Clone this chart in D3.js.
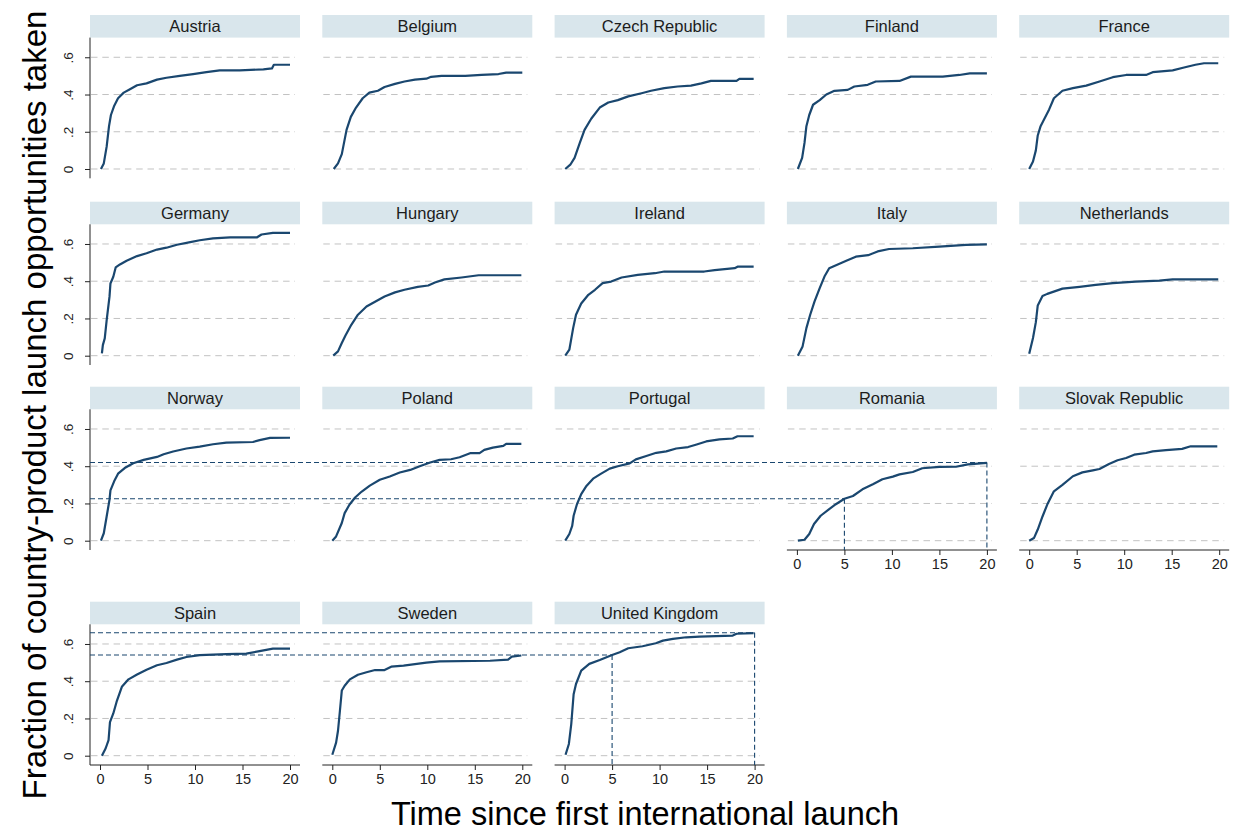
<!DOCTYPE html>
<html>
<head>
<meta charset="utf-8">
<script src="https://cdn.jsdelivr.net/npm/d3@7"></script>
<style>
  html, body { margin: 0; padding: 0; background: #fff; }
  svg { display: block; font-family: "Liberation Sans", Arial, sans-serif; }
</style>
</head>
<body>
<svg id="chart" width="1234" height="833"></svg>
<script>
// ---------------- DATA ----------------
const countries = ["Austria","Belgium","Czech Republic","Finland","France",
  "Germany","Hungary","Ireland","Italy","Netherlands",
  "Norway","Poland","Portugal","Romania","Slovak Republic",
  "Spain","Sweden","United Kingdom"];

const xTicks = [0, 5, 10, 15, 20];
const yTicks = [0, 0.2, 0.4, 0.6];
const yTickLabels = ["0", ".2", ".4", ".6"];

const austria = [[0.1,0],[0.4,0.03],[0.7,0.12],[0.95,0.23],[1.15,0.29],[1.5,0.34],[1.9,0.38],[2.5,0.41],[3.2,0.43],[3.9,0.45],[4.9,0.46],[6.0,0.48],[7.0,0.49],[8.4,0.50],[9.8,0.51],[11.2,0.52],[12.6,0.53],[14.7,0.53],[17.2,0.535],[18.1,0.54],[18.3,0.56],[20,0.56]];
const belgium = [[0.15,0],[0.6,0.03],[1.0,0.08],[1.5,0.21],[1.95,0.28],[2.5,0.33],[3.2,0.38],[3.9,0.41],[4.8,0.42],[5.5,0.44],[6.6,0.457],[7.6,0.47],[8.7,0.48],[9.9,0.485],[10.4,0.495],[11.5,0.50],[14,0.50],[15.7,0.505],[17.5,0.51],[18.3,0.518],[20,0.518]];
const czech = [[0.07,0],[0.6,0.023],[1.05,0.06],[1.6,0.14],[2.1,0.21],[2.8,0.27],[3.7,0.33],[4.6,0.357],[5.6,0.37],[6.7,0.39],[8.1,0.407],[9.1,0.42],[10.5,0.434],[11.9,0.443],[13.3,0.448],[14.4,0.46],[15.4,0.473],[18.1,0.473],[18.4,0.484],[19.9,0.484]];
const finland = [[0.1,0],[0.55,0.06],[0.8,0.14],[1.0,0.23],[1.3,0.29],[1.7,0.345],[2.4,0.37],[3.1,0.40],[3.95,0.42],[5.35,0.425],[6.05,0.443],[7.45,0.452],[8.3,0.47],[10.8,0.473],[12.0,0.496],[15.35,0.496],[17.1,0.505],[18.2,0.514],[20,0.514]];
const france = [[0,0],[0.4,0.04],[0.7,0.10],[0.9,0.18],[1.2,0.23],[1.6,0.27],[2.1,0.32],[2.6,0.38],[3.5,0.42],[4.6,0.434],[6.0,0.448],[7.4,0.47],[8.8,0.493],[10.2,0.505],[12.3,0.505],[13.0,0.52],[15.1,0.53],[16.3,0.545],[17.5,0.56],[18.4,0.568],[19.9,0.568]];
const germany = [[0.2,0.013],[0.3,0.057],[0.5,0.093],[0.7,0.19],[1.0,0.317],[1.1,0.388],[1.4,0.424],[1.65,0.474],[2.1,0.49],[2.8,0.51],[3.9,0.535],[4.9,0.55],[6.0,0.57],[7.0,0.58],[8.1,0.596],[9.5,0.61],[10.5,0.62],[11.9,0.63],[13.7,0.635],[16.5,0.635],[17.0,0.651],[18.2,0.66],[20,0.66]];
const hungary = [[0.1,0],[0.6,0.023],[1.0,0.068],[1.4,0.11],[2.0,0.166],[2.7,0.22],[3.6,0.264],[4.5,0.29],[5.5,0.318],[6.6,0.34],[7.6,0.354],[9.0,0.37],[10.1,0.377],[10.8,0.393],[11.8,0.41],[13.6,0.42],[15.4,0.432],[19.9,0.432]];
const ireland = [[0.07,0],[0.5,0.032],[0.9,0.148],[1.2,0.22],[1.75,0.28],[2.5,0.327],[3.2,0.354],[4.0,0.39],[4.9,0.398],[6.0,0.42],[7.7,0.434],[9.5,0.443],[10.5,0.452],[14.7,0.452],[15.8,0.46],[17.9,0.47],[18.2,0.478],[19.9,0.478]];
const italy = [[0.1,0],[0.6,0.05],[1.0,0.148],[1.4,0.22],[1.85,0.29],[2.4,0.363],[2.9,0.425],[3.4,0.47],[4.3,0.49],[5.2,0.51],[6.2,0.532],[7.5,0.54],[8.5,0.56],[9.7,0.573],[12.2,0.577],[15.0,0.586],[17.8,0.595],[20,0.598]];
const netherlands = [[0,0.01],[0.4,0.095],[0.7,0.18],[0.9,0.27],[1.4,0.32],[1.9,0.332],[3.5,0.36],[5.3,0.37],[7.0,0.38],[8.8,0.39],[11.2,0.398],[13.7,0.403],[15.1,0.41],[19.9,0.41]];
const norway = [[0.1,0],[0.4,0.04],[0.7,0.13],[1.0,0.22],[1.1,0.27],[1.5,0.32],[1.9,0.36],[2.6,0.39],[3.5,0.416],[4.6,0.434],[6.0,0.45],[6.7,0.464],[7.7,0.479],[9.1,0.495],[10.5,0.505],[11.9,0.518],[13.3,0.527],[16.1,0.53],[16.8,0.54],[17.9,0.552],[20,0.553]];
const poland = [[0,0],[0.4,0.023],[1.0,0.095],[1.3,0.148],[1.8,0.193],[2.4,0.232],[3.1,0.264],[3.95,0.296],[5.0,0.327],[6.05,0.345],[7.1,0.366],[8.2,0.38],[9.2,0.40],[10.3,0.42],[11.3,0.434],[12.5,0.4375],[13.4,0.448],[14.5,0.47],[15.5,0.47],[16.0,0.4875],[16.9,0.5],[18.0,0.509],[18.3,0.52],[19.9,0.52]];
const portugal = [[0.07,0],[0.5,0.036],[0.8,0.08],[0.95,0.134],[1.3,0.196],[1.75,0.25],[2.3,0.294],[3.0,0.333],[3.85,0.36],[4.75,0.387],[5.6,0.40],[6.85,0.415],[7.5,0.437],[8.6,0.455],[9.65,0.472],[10.7,0.48],[11.75,0.495],[13.0,0.503],[13.9,0.517],[14.9,0.533],[16.3,0.544],[17.7,0.549],[18.2,0.561],[19.9,0.561]];
const romania = [[0.1,0],[0.8,0.005],[1.3,0.036],[1.8,0.09],[2.5,0.134],[3.4,0.17],[4.1,0.196],[5.0,0.225],[5.9,0.24],[6.9,0.276],[8.0,0.303],[9.0,0.33],[10.1,0.344],[10.8,0.356],[12.2,0.369],[13.2,0.389],[15.0,0.396],[16.75,0.397],[18.0,0.41],[20,0.418]];
const slovak = [[0,0],[0.5,0.014],[0.9,0.06],[1.4,0.13],[1.9,0.194],[2.6,0.265],[3.5,0.30],[4.6,0.346],[5.6,0.367],[6.7,0.378],[7.4,0.385],[8.4,0.412],[9.3,0.432],[10.2,0.444],[11.05,0.462],[12.3,0.471],[13.0,0.48],[14.4,0.486],[16.1,0.493],[17.0,0.507],[19.8,0.507]];
const spain = [[0.2,0],[0.6,0.04],[0.9,0.084],[1.05,0.18],[1.4,0.227],[1.75,0.29],[2.3,0.37],[3.0,0.41],[3.9,0.436],[4.9,0.462],[6.0,0.486],[7.0,0.498],[8.1,0.516],[9.1,0.53],[10.5,0.54],[13.3,0.545],[15.4,0.548],[16.8,0.562],[18.2,0.575],[20,0.575]];
const sweden = [[0,0.005],[0.4,0.07],[0.6,0.134],[0.8,0.24],[1.0,0.35],[1.3,0.376],[1.85,0.41],[2.7,0.435],[3.6,0.448],[4.5,0.46],[5.5,0.46],[6.2,0.478],[7.5,0.484],[8.9,0.493],[9.9,0.50],[11.3,0.507],[16.6,0.51],[18.5,0.516],[18.9,0.532],[19.9,0.538]];
const unitedKingdom = [[0.1,0.005],[0.45,0.063],[0.7,0.17],[0.95,0.33],[1.2,0.385],[1.75,0.457],[2.6,0.493],[3.7,0.514],[5.0,0.541],[5.8,0.556],[6.7,0.577],[8.2,0.588],[9.6,0.604],[10.35,0.618],[11.4,0.627],[12.8,0.636],[14.2,0.64],[17.7,0.645],[18.1,0.655],[19.9,0.658]];

const seriesList = [austria, belgium, czech, finland, france,
  germany, hungary, ireland, italy, netherlands,
  norway, poland, portugal, romania, slovak,
  spain, sweden, unitedKingdom];

// reference markers: [time, value]
const refRomania = [[5, 0.225], [20, 0.42]];
const refUK = [[5, 0.541], [20, 0.66]];

const xAxisPanels = ["Romania", "Slovak Republic", "Spain", "Sweden", "United Kingdom"];

// ---------------- LAYOUT ----------------
const svg = d3.select("#chart");
const nCols = 5;
const colLeft0 = 90, colStep = 232.3, panelW = 210;
const stripTops = [15, 201.7, 386.7, 601.7];
const stripH = 22.6, plotH = 140.7;
const navy = "#1a476f";

function panelGeom(i) {
  const r = Math.floor(i / nCols), c = i % nCols;
  const left = colLeft0 + c * colStep;
  const stripTop = stripTops[r];
  const plotTop = stripTop + stripH;
  const plotBottom = plotTop + plotH;
  const x = d3.scaleLinear().domain([0, 20]).range([left + 10, left + 200]);
  const y = d3.scaleLinear().domain([-0.05, 0.7057]).range([plotBottom, plotTop]);
  return { r, c, left, stripTop, plotTop, plotBottom, x, y };
}

const line = d3.line().x(d => d[0]).y(d => d[1]);

countries.forEach((name, i) => {
  const g = panelGeom(i);
  const pg = svg.append("g");

  // strip
  pg.append("rect").attr("x", g.left).attr("y", g.stripTop)
    .attr("width", panelW).attr("height", stripH).attr("fill", "#d9e6ec");
  pg.append("text").attr("x", g.left + panelW / 2).attr("y", g.stripTop + 17)
    .attr("text-anchor", "middle").attr("font-size", 16.5).attr("fill", "#1c1c1c")
    .text(name);

  // gridlines
  pg.selectAll("line.grid").data(yTicks).enter().append("line")
    .attr("x1", g.left + 1).attr("x2", g.left + 205)
    .attr("y1", d => g.y(d)).attr("y2", d => g.y(d))
    .attr("stroke", "#c2c2c2").attr("stroke-width", 1)
    .attr("stroke-dasharray", "6.5,4.8");

  // y axis (first column)
  if (g.c === 0) {
    const yAxis = d3.axisLeft(g.y).tickValues(yTicks)
      .tickFormat((d, k) => yTickLabels[k]).tickSize(5).tickSizeOuter(0);
    const ya = pg.append("g").attr("transform", `translate(${g.left},0)`).call(yAxis);
    ya.select(".domain").attr("stroke", "#222").attr("d", `M0,${g.plotTop}V${g.plotBottom}`);
    ya.selectAll(".tick line").attr("stroke", "#222");
    ya.selectAll(".tick text")
      .attr("font-size", 13.5).attr("fill", "#222")
      .attr("text-anchor", "middle").attr("x", null).attr("dy", null)
      .attr("transform", "translate(-17,0) rotate(-90)");
  }

  // x axis
  if (xAxisPanels.includes(name)) {
    const xAxis = d3.axisBottom(g.x).tickValues(xTicks).tickSize(5).tickSizeOuter(0).tickPadding(4);
    const xa = pg.append("g").attr("transform", `translate(0,${g.plotBottom})`).call(xAxis);
    xa.select(".domain").attr("stroke", "#222").attr("d", `M${g.left},0H${g.left + panelW}`);
    xa.selectAll(".tick line").attr("stroke", "#222");
    xa.selectAll(".tick text").attr("font-size", 14.5).attr("fill", "#222");
  }

  // series line
  const data = seriesList[i];
  pg.append("path")
    .attr("d", line(data.map(d => [g.x(d[0]), g.y(d[1])])))
    .attr("fill", "none").attr("stroke", navy).attr("stroke-width", 2.2)
    .attr("stroke-linejoin", "round");
});

// reference lines
function drawRefs(countryName, refs) {
  const i = countries.indexOf(countryName);
  const g = panelGeom(i);
  const startX = colLeft0; // first column axis of the same row
  refs.forEach(([t, v]) => {
    svg.append("line")
      .attr("x1", startX).attr("x2", g.x(t))
      .attr("y1", g.y(v)).attr("y2", g.y(v))
      .attr("stroke", navy).attr("stroke-width", 1.1).attr("stroke-dasharray", "5,3");
    svg.append("line")
      .attr("x1", g.x(t)).attr("x2", g.x(t))
      .attr("y1", g.y(v)).attr("y2", g.plotBottom)
      .attr("stroke", navy).attr("stroke-width", 1.1).attr("stroke-dasharray", "5,3");
  });
}
drawRefs("Romania", refRomania);
drawRefs("United Kingdom", refUK);

// axis titles
svg.append("text")
  .attr("transform", "translate(46,405) rotate(-90)")
  .attr("text-anchor", "middle").attr("font-size", 33).attr("fill", "#000")
  .text("Fraction of country-product launch opportunities taken");
svg.append("text")
  .attr("x", 645).attr("y", 825)
  .attr("text-anchor", "middle").attr("font-size", 32.5).attr("fill", "#000")
  .text("Time since first international launch");
</script>
</body>
</html>
